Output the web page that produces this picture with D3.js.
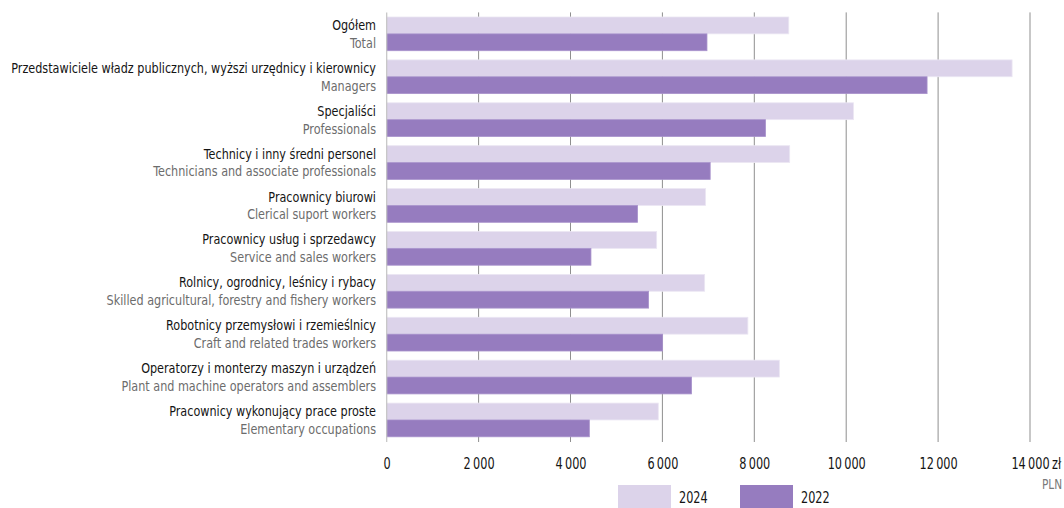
<!DOCTYPE html>
<html>
<head>
<meta charset="utf-8">
<script src="https://cdn.jsdelivr.net/npm/d3@7"></script>
<style>
  html, body { margin: 0; padding: 0; background: #fff; }
  svg { display: block; }
  text { font-family: "DejaVu Sans", sans-serif; font-stretch: condensed; }
</style>
</head>
<body>
<svg id="chart" width="1064" height="508"></svg>
<script>
const categoriesPL = [
  "Ogółem",
  "Przedstawiciele władz publicznych, wyższi urzędnicy i kierownicy",
  "Specjaliści",
  "Technicy i inny średni personel",
  "Pracownicy biurowi",
  "Pracownicy usług i sprzedawcy",
  "Rolnicy, ogrodnicy, leśnicy i rybacy",
  "Robotnicy przemysłowi i rzemieślnicy",
  "Operatorzy i monterzy maszyn i urządzeń",
  "Pracownicy wykonujący prace proste"
];
const categoriesEN = [
  "Total",
  "Managers",
  "Professionals",
  "Technicians and associate professionals",
  "Clerical suport workers",
  "Service and sales workers",
  "Skilled agricultural, forestry and fishery workers",
  "Craft and related trades workers",
  "Plant and machine operators and assemblers",
  "Elementary occupations"
];
const values2024 = [8750, 13610, 10160, 8770, 6940, 5875, 6920, 7860, 8545, 5910];
const values2022 = [6970, 11760, 8245, 7040, 5460, 4445, 5700, 6005, 6635, 4410];
const seriesNames = ["2024", "2022"];
const xTicks = [0, 2000, 4000, 6000, 8000, 10000, 12000, 14000];
const unitPL = "zł";
const unitEN = "PLN";

const colors = { "2024": "#dcd3ea", "2022": "#967cbf" };
const FS = 14;
const FT = 15.5;

const svg = d3.select("#chart");
const x = d3.scaleLinear().domain([0, 14000]).range([386.7, 1030]);
const y = d3.scaleBand().domain(d3.range(categoriesPL.length))
  .range([12.4, 441.4]).paddingInner(0.214).paddingOuter(0.107);
const ySub = d3.scaleBand().domain(seriesNames).range([0, y.bandwidth()]);

const locale = d3.formatLocale({ decimal: ",", thousands: "\u2009", grouping: [3], currency: ["", " zł"] });
const fmt = locale.format(",d");

// horizontal compression factors matching reference text widths
const probe = svg.append("text").attr("font-size", FS).text(categoriesPL[1]);
const SX = 365 / probe.node().getComputedTextLength();
probe.attr("font-size", FT).text(fmt(2000));
const SXT = 31 / probe.node().getComputedTextLength();
probe.remove();

function addText(parent, tx, ty, str, opts) {
  const sx = opts.sx || SX;
  return parent.append("text")
    .attr("transform", `translate(${tx},${ty}) scale(${sx},1)`)
    .attr("font-size", opts.size || FS)
    .attr("fill", opts.fill || "#1a1a1a")
    .attr("text-anchor", opts.anchor || "start")
    .text(str);
}

// gridlines
svg.append("g").selectAll("line").data(xTicks.slice(1)).join("line")
  .attr("x1", d => x(d)).attr("x2", d => x(d))
  .attr("y1", 12.4).attr("y2", 442)
  .attr("stroke", "#8f8f8f").attr("stroke-width", 1);

// bars
const data = categoriesPL.map((c, i) => ({ i, "2024": values2024[i], "2022": values2022[i] }));
const groups = svg.append("g").selectAll("g").data(data).join("g")
  .attr("transform", d => `translate(0,${y(d.i)})`);
groups.selectAll("rect").data(d => seriesNames.map(s => ({ s, v: d[s] }))).join("rect")
  .attr("x", x(0))
  .attr("y", d => ySub(d.s))
  .attr("width", d => x(d.v) - x(0))
  .attr("height", ySub.bandwidth())
  .attr("fill", d => colors[d.s])
  .attr("stroke", d => d.s === "2024" ? "#ebe6f3" : "#a993cc")
  .attr("stroke-width", 0.8);

// vertical baseline
svg.append("line")
  .attr("x1", x(0)).attr("x2", x(0)).attr("y1", 12.4).attr("y2", 442)
  .attr("stroke", "#c4c4c4").attr("stroke-width", 1.2);

// category labels
const labels = svg.append("g");
categoriesPL.forEach((c, i) => {
  addText(labels, 376, y(i) + ySub("2024") + ySub.bandwidth() / 2 + 4.5, c, { anchor: "end", fill: "#141414" });
  addText(labels, 376, y(i) + ySub("2022") + ySub.bandwidth() / 2 + 5.5, categoriesEN[i], { anchor: "end", fill: "#6c6c6c" });
});

// x axis
const xAxis = d3.axisBottom(x).tickValues(xTicks).tickFormat(fmt).tickSize(0).tickPadding(0);
const ax = svg.append("g").call(xAxis);
ax.select(".domain").remove();
ax.selectAll(".tick text").each(function () {
  d3.select(this)
    .attr("y", null).attr("dy", null)
    .attr("transform", `translate(0,469) scale(${SXT},1)`)
    .attr("font-size", FT).attr("fill", "#141414")
    .attr("font-family", null);
});

// unit
const lastNode = ax.selectAll(".tick text").filter(d => d === 14000).node();
const lastW = lastNode.getComputedTextLength() * SXT;
addText(svg, x(14000) + lastW / 2 + 3, 469, unitPL, { size: FT, sx: SXT, fill: "#141414" });
addText(svg, 1052, 489, unitEN, { anchor: "middle", fill: "#7a7a7a", size: 14.5, sx: SXT });

// legend
const legend = svg.append("g");
const legX = [618, 740];
seriesNames.forEach((s, k) => {
  legend.append("rect").attr("x", legX[k]).attr("y", 485).attr("width", 53).attr("height", 24)
    .attr("fill", colors[s]);
  addText(legend, legX[k] + 61, 503, s, { size: FT, sx: SXT, fill: "#141414" });
});
</script>
</body>
</html>
